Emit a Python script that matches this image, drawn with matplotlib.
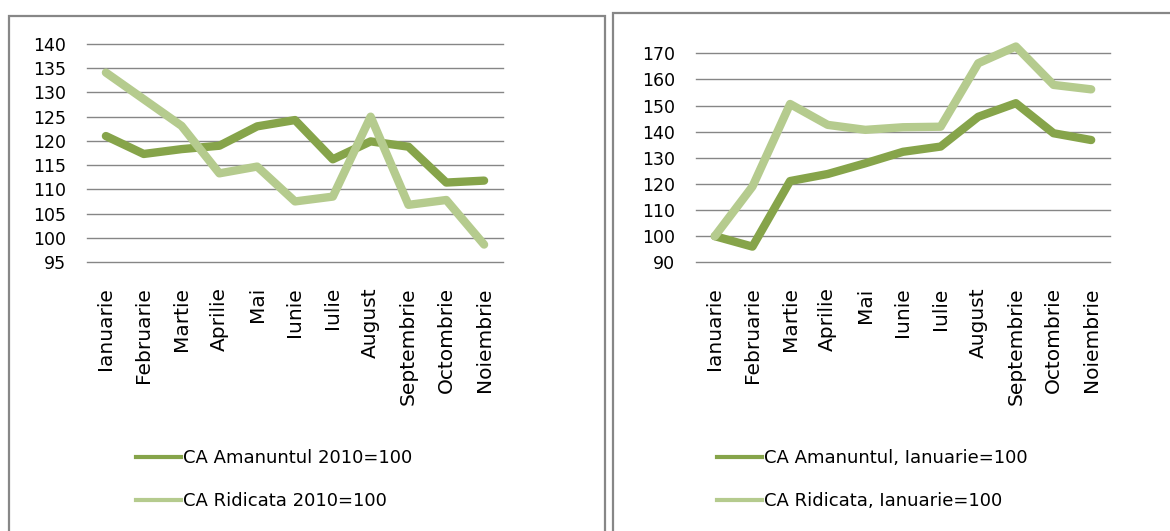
"""
plot.py
CA Amanuntul / CA Ridicata, two index panels
"""

import numpy as np
import matplotlib
matplotlib.use('Agg')
import matplotlib.pyplot as plt
from matplotlib.patches import Rectangle
from matplotlib.lines import Line2D

# Data
luni = ['Ianuarie', 'Februarie', 'Martie', 'Aprilie', 'Mai', 'Iunie',
        'Iulie', 'August', 'Septembrie', 'Octombrie', 'Noiembrie']

amanunt_2010 = [121.0, 117.3, 118.3, 119.0, 123.0, 124.3, 116.2, 119.9, 118.8, 111.4, 111.8]
ridicata_2010 = [134.1, 128.6, 123.1, 113.3, 114.7, 107.5, 108.5, 125.0, 106.8, 107.8, 98.6]

amanunt_ian = [100.0, 96.0, 121.1, 123.8, 127.9, 132.3, 134.3, 145.7, 150.9, 139.4, 136.8]
ridicata_ian = [100.0, 119.0, 150.6, 142.6, 140.7, 141.7, 141.9, 166.2, 172.6, 157.9, 156.2]

ticks_stanga = [95, 100, 105, 110, 115, 120, 125, 130, 135, 140]
ticks_dreapta = [90, 100, 110, 120, 130, 140, 150, 160, 170]

legenda_stanga = ['CA Amanuntul 2010=100', 'CA Ridicata 2010=100']
legenda_dreapta = ['CA Amanuntul, Ianuarie=100', 'CA Ridicata, Ianuarie=100']

# Style
dark = '#86A44A'
light = '#B5CB8E'
grid = '#868686'
border = '#878787'

W, H = 1170, 531
fig = plt.figure(figsize=(W/100, H/100), dpi=100)


def px_axes(x0, y0, x1, y1):
    # pixel box (top-left origin) -> axes
    return fig.add_axes([x0/W, 1-y1/H, (x1-x0)/W, (y1-y0)/H])


def panel(ax, a, r, yticks, labels, leg_x):
    x = np.arange(len(luni))
    ax.plot(x, a, color=dark, lw=6, solid_joinstyle='round', solid_capstyle='round',
            zorder=3, clip_on=False)
    ax.plot(x, r, color=light, lw=6, solid_joinstyle='round', solid_capstyle='round',
            zorder=3, clip_on=False)
    ax.set_xlim(-0.5, len(luni)-0.5)
    ax.set_ylim(yticks[0], yticks[-1])
    ax.set_yticks(yticks)
    ax.set_xticks(x)
    ax.set_xticklabels(luni, rotation=90, fontsize=14.5, va='top')
    ax.tick_params(axis='y', length=0, pad=15, labelsize=12.5)
    ax.tick_params(axis='x', length=0, pad=18)
    for t in yticks:
        ax.axhline(t, color=grid, lw=1.0, zorder=1, clip_on=False)
    for s in ax.spines.values():
        s.set_visible(False)
    ax.set_facecolor('none')

    # legend
    hs = [Line2D([], [], color=dark, lw=3), Line2D([], [], color=light, lw=3)]
    fig.legend(hs, labels, loc='center left', bbox_to_anchor=(leg_x/W, 1-479.5/H),
               frameon=False, fontsize=13, handlelength=2.5, handletextpad=0.1,
               labelspacing=1.4, borderpad=0, borderaxespad=0)


ax1 = px_axes(87, 44, 503, 262)
panel(ax1, amanunt_2010, ridicata_2010, ticks_stanga, legenda_stanga, 136)

ax2 = px_axes(696, 53.3, 1110, 262.3)
panel(ax2, amanunt_ian, ridicata_ian, ticks_dreapta, legenda_dreapta, 717)

# Chart frames
fig.patches.append(Rectangle((9/W, -0.05), (605-9)/W, 1.05-16/H, transform=fig.transFigure,
                             fill=False, edgecolor=border, lw=1.6))
fig.patches.append(Rectangle((613/W, -0.05), 0.5, 1.05-13/H, transform=fig.transFigure,
                             fill=False, edgecolor=border, lw=1.6))

plt.savefig('out.png', dpi=100)
